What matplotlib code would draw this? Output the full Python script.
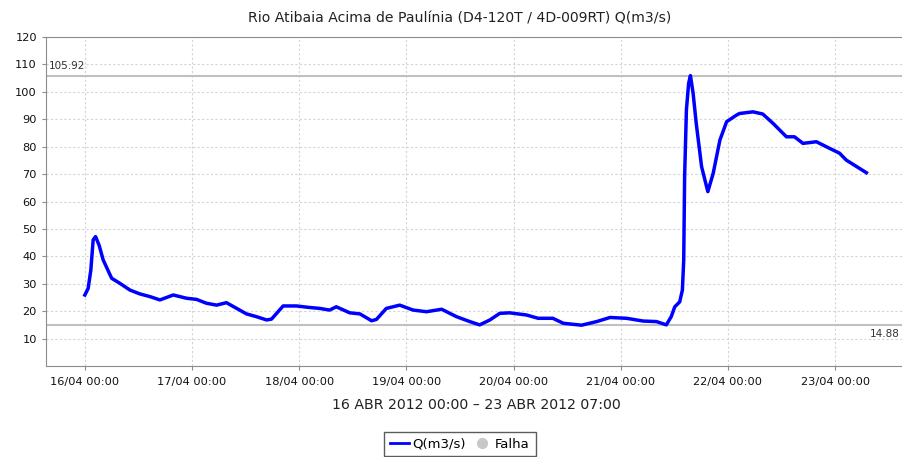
import matplotlib
matplotlib.use("Agg")
import matplotlib.pyplot as plt
import matplotlib.dates as mdates
from matplotlib.lines import Line2D
import pandas as pd

# hours since 16/04/2012 00:00 and flow Q(m3/s)
hours = [0, 0.74, 1.34, 1.86, 2.4, 3.2, 4.1, 6.0, 7.8, 10.1, 12.3, 14.6, 16.8,
         19.8, 22.8, 25.0, 27.2, 29.5, 31.7, 34.0, 36.2, 38.4, 40.7, 41.8, 44.4,
         47.4, 50.0, 52.6, 54.8, 56.3, 59.3, 61.6, 64.2, 65.3, 67.5, 70.5, 73.5,
         76.5, 79.9, 83.2, 86.2, 88.4, 90.7, 92.9, 95.1, 98.9, 101.5, 102.6,
         104.8, 107.1, 111.2, 114.6, 117.6, 121.3, 125.0, 128.0, 130.2, 131.3,
         132.1, 133.2, 133.8, 134.1, 134.3, 134.7, 135.2, 135.6, 136.2, 136.9,
         138.1, 139.5, 140.7, 142.2, 143.7, 145.9, 146.6, 149.6, 151.8, 154.1,
         157.1, 158.9, 160.8, 163.8, 166.0, 169.0, 170.5, 175.0]
flow = [25.9, 28.3, 35.0, 46.0, 47.2, 44.0, 38.7, 32.0, 30.2, 27.7, 26.3, 25.3,
        24.1, 25.9, 24.7, 24.3, 22.9, 22.2, 23.1, 21.0, 19.0, 18.0, 16.8, 17.1,
        21.9, 21.9, 21.4, 21.0, 20.4, 21.6, 19.4, 19.0, 16.5, 17.0, 21.0, 22.2,
        20.4, 19.8, 20.7, 18.0, 16.2, 15.0, 16.8, 19.2, 19.4, 18.6, 17.4, 17.4,
        17.4, 15.6, 14.88, 16.2, 17.7, 17.4, 16.4, 16.2, 15.0, 18.0, 21.6, 23.4,
        27.7, 38.7, 69.0, 93.4, 103.1, 105.92, 99.5, 88.5, 72.7, 63.6, 70.3, 82.4,
        89.1, 91.5, 92.1, 92.7, 91.9, 88.5, 83.6, 83.6, 81.2, 81.8, 80.0, 77.6,
        75.1, 70.5]
q_max = 105.92
q_min = 14.88
yticks = [10, 20, 30, 40, 50, 60, 70, 80, 90, 100, 110, 120]

start = pd.Timestamp("2012-04-16 00:00")
times = start + pd.to_timedelta(hours, unit="h")

fig = plt.figure(figsize=(9.03, 4.57), dpi=100)
ax = fig.add_axes([46 / 903, 1 - 366 / 457, 1 - 46 / 903, (366 - 37) / 457])

ax.plot(times, flow, color="#0000ff", lw=2.5, zorder=3)
ax.axhline(q_max, color="#c0c0c0", lw=1.5, zorder=2)
ax.axhline(q_min, color="#c0c0c0", lw=1.5, zorder=2)

ax.set_ylim(0, 120)
ax.set_xlim(start - pd.Timedelta(hours=8.7), start + pd.Timedelta(hours=183.2))
ax.set_yticks(yticks)
ax.xaxis.set_major_locator(mdates.DayLocator())
ax.xaxis.set_major_formatter(mdates.DateFormatter("%d/%m %H:%M"))

ax.grid(True, color="#d4d4d4", lw=0.8, linestyle=(0, (2, 2)))
for s in ["left", "bottom", "top"]:
    ax.spines[s].set_color("#8c8c8c")
ax.spines["right"].set_visible(False)
ax.tick_params(axis="both", length=3, width=0.8, color="#8c8c8c",
               labelsize=8.2, labelcolor="#111111")
ax.tick_params(axis="x", pad=5)

ax.text(0.003, q_max + 1.5, "105.92", transform=ax.get_yaxis_transform(),
        fontsize=7.5, color="#333333", ha="left", va="bottom")
ax.text(0.9965, q_min - 1.5, "14.88", transform=ax.get_yaxis_transform(),
        fontsize=7.5, color="#333333", ha="right", va="top")

fig.text(460 / 903, 1 - 19 / 457,
         "Rio Atibaia Acima de Paulínia (D4-120T / 4D-009RT) Q(m3/s)",
         ha="center", va="center", fontsize=10.1, color="#222222")
fig.text(476 / 903, 1 - 405 / 457, "16 ABR 2012 00:00 – 23 ABR 2012 07:00",
         ha="center", va="center", fontsize=10.2, color="#222222")

handles = [Line2D([], [], color="#0000ff", lw=2),
           Line2D([], [], color="#c8c8c8", marker="o", lw=0, markersize=7)]
leg = fig.legend(handles, ["Q(m3/s)", "Falha"], loc="center",
                 bbox_to_anchor=(460 / 903, 1 - 444 / 457), ncol=2,
                 fontsize=9.5, frameon=True, fancybox=False,
                 handlelength=1.4, handletextpad=0.3, columnspacing=0.5,
                 borderpad=0.45, borderaxespad=0)
leg.get_frame().set_edgecolor("#333333")
leg.get_frame().set_linewidth(1.0)

fig.savefig("out.png", dpi=100)
